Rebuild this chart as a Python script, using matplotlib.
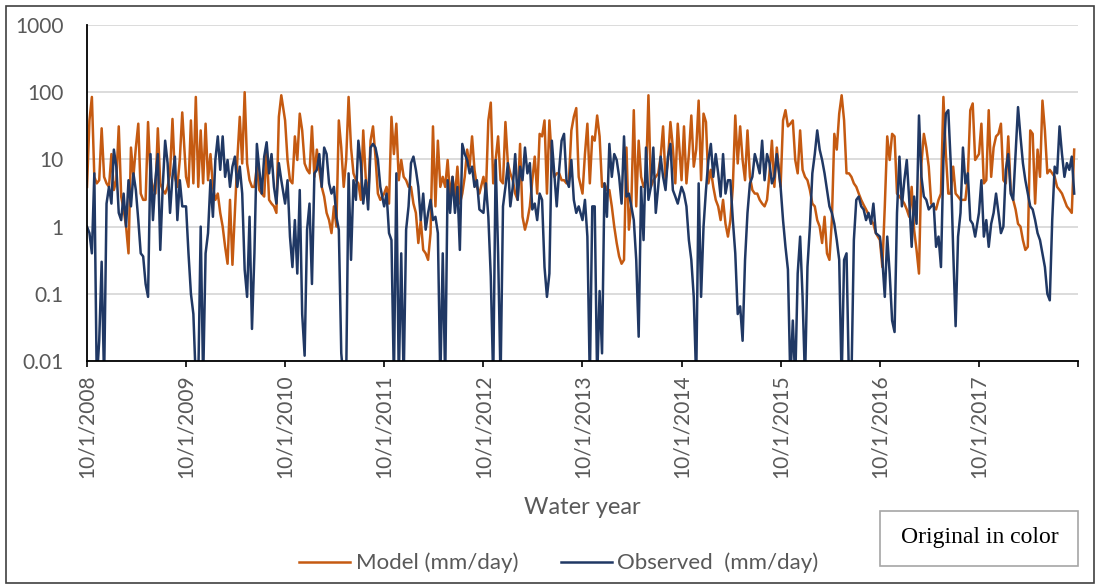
import numpy as np
import pandas as pd
import matplotlib
matplotlib.use('Agg')
import matplotlib.pyplot as plt
import matplotlib.dates as mdates
from matplotlib.patches import Rectangle
from matplotlib.ticker import FixedLocator, FixedFormatter, NullLocator

# Valeurs (mm/jour), ~40 points par annee hydrologique
model_wy2009 = [3.9, 38, 85, 5.5, 4.4, 4.9, 29, 5.5, 4.4, 3.9, 12, 3.5, 4.9, 31, 2.8, 1.8, 1.0, 0.4, 15, 5.5,
                15, 34, 3.1, 2.5, 2.5, 36, 5.5, 3.9, 3.1, 29, 4.4, 3.5, 3.1, 3.9, 6.2, 40, 5.5, 3.9, 10, 50]
model_wy2010 = [5.5, 3.9, 38, 4.4, 85, 3.9, 27, 4.4, 34, 4.9, 12, 3.9, 2.5, 3.1, 1.6, 1.0, 0.5, 0.28, 2.5, 0.27,
                1.6, 10, 43, 8.7, 100, 8.7, 4.9, 3.9, 3.9, 7.8, 3.5, 3.1, 2.8, 15, 2.5, 2.2, 2.0, 1.6, 43, 90]
model_wy2011 = [38, 9.8, 4.9, 4.4, 22, 9.8, 48, 27, 8.7, 7.0, 6.2, 31, 5.5, 14, 7.0, 3.9, 2.8, 1.6, 1.25, 0.8,
                2.0, 1.0, 38, 15, 3.9, 9.8, 85, 15, 6.2, 4.9, 4.4, 2.5, 27, 5.5, 2.5, 19, 31, 11, 3.1, 2.5]
model_wy2012 = [3.1, 3.9, 2.2, 43, 12, 34, 4.9, 9.8, 5.5, 4.9, 3.9, 3.9, 2.2, 1.6, 0.57, 1.25, 0.45, 0.4, 0.32, 0.8,
                31, 2.0, 19, 3.9, 5.5, 3.9, 9.8, 2.8, 5.5, 2.8, 7.8, 2.2, 3.1, 5.5, 14, 7.8, 22, 7.0, 3.9, 3.1]
model_wy2013 = [5.5, 3.1, 38, 70, 4.4, 9.8, 22, 4.9, 4.4, 36, 8.7, 6.2, 4.9, 3.1, 2.5, 17, 1.4, 0.9, 1.25, 2.0,
                4.9, 11, 3.1, 24, 22, 38, 3.1, 38, 9.8, 5.5, 6.2, 6.2, 4.9, 4.9, 4.4, 4.9, 27, 43, 58, 5.5]
model_wy2014 = [3.1, 12, 34, 4.4, 22, 19, 45, 22, 3.9, 4.4, 3.5, 3.5, 2.0, 1.0, 0.57, 0.36, 0.28, 0.32, 15, 0.9,
                2.2, 54, 2.0, 19, 5.5, 3.9, 4.9, 90, 3.9, 4.9, 5.5, 6.2, 11, 31, 4.9, 9.8, 36, 15, 4.4, 34]
model_wy2015 = [4.9, 31, 4.4, 12, 45, 7.8, 14, 75, 4.9, 48, 36, 4.4, 7.0, 3.9, 2.5, 2.0, 1.25, 2.5, 1.1, 0.71,
                1.25, 3.9, 45, 8.7, 31, 9.8, 4.9, 27, 5.5, 3.5, 3.1, 3.1, 2.5, 2.2, 2.0, 2.5, 6.2, 19, 3.9, 15]
model_wy2016 = [3.9, 38, 54, 31, 34, 38, 9.8, 6.2, 27, 7.0, 5.5, 4.9, 3.5, 2.2, 2.0, 1.25, 1.0, 0.57, 1.4, 0.4,
                0.32, 1.25, 24, 14, 48, 90, 38, 6.2, 6.2, 5.5, 4.4, 3.9, 3.1, 2.5, 2.1, 1.8, 1.5, 1.25, 1.1, 0.8]
model_wy2017 = [0.63, 0.25, 2.0, 22, 9.8, 24, 22, 3.1, 2.8, 2.5, 2.2, 1.8, 1.4, 3.9, 0.9, 0.45, 0.2, 8.7, 24, 15,
                7.8, 2.2, 2.0, 1.8, 2.5, 3.1, 85, 12, 3.1, 3.1, 7.8, 3.1, 2.8, 2.5, 2.5, 2.5, 5.5, 54, 68, 9.8]
model_wy2018 = [12, 34, 4.4, 4.9, 54, 5.5, 15, 22, 24, 34, 4.9, 4.4, 22, 3.5, 2.5, 1.8, 1.1, 1.0, 0.63, 0.45,
                0.5, 27, 24, 2.2, 14, 5.5, 75, 27, 6.2, 7.0, 6.2, 5.5, 3.9, 3.5, 3.1, 2.5, 2.0, 1.8, 1.6, 14]

# 0.005 = sous l'axe (debit quasi nul)
obs_wy2009 = [1.0, 0.8, 0.4, 6.2, 0.005, 0.02, 0.3, 0.005, 2.2, 3.9, 2.2, 14, 7.8, 1.6, 1.25, 3.1, 1.0, 4.9, 2.0, 6.2,
              3.5, 1.25, 0.4, 0.36, 0.14, 0.09, 12, 1.25, 4.9, 12, 0.45, 3.9, 19, 8.8, 1.6, 5.5, 11, 1.25, 4.9, 2.0]
obs_wy2010 = [2.0, 0.4, 0.1, 0.05, 0.005, 0.005, 1.0, 0.005, 0.4, 0.8, 4.9, 1.4, 9.8, 22, 7.0, 22, 5.5, 9.8, 3.9, 7.8,
              11, 3.9, 7.8, 3.1, 0.23, 0.09, 1.4, 0.03, 0.4, 17, 7.0, 3.1, 11, 18, 6.2, 12, 3.9, 2.2, 8.8, 4.9]
obs_wy2011 = [2.2, 4.9, 0.71, 0.25, 1.25, 0.2, 3.5, 0.05, 0.012, 0.9, 2.2, 0.14, 6.2, 7.0, 12, 3.9, 15, 12, 4.4, 3.1,
              3.9, 1.4, 0.9, 0.013, 0.005, 0.005, 6.2, 0.32, 4.9, 2.5, 19, 8.8, 2.2, 4.9, 1.8, 15, 17, 15, 9.8, 3.9]
obs_wy2012 = [2.0, 3.1, 0.8, 0.63, 0.005, 6.2, 0.005, 0.4, 0.005, 0.9, 2.0, 8.8, 11, 7.0, 3.9, 1.25, 3.1, 0.9, 1.6, 2.5,
              1.25, 1.4, 0.8, 0.005, 0.4, 0.005, 4.9, 1.6, 5.5, 1.6, 3.9, 0.45, 17, 12, 9.8, 6.2, 7.8, 3.9, 4.9, 1.8]
obs_wy2013 = [1.6, 4.4, 1.4, 0.18, 0.005, 9.8, 0.4, 0.005, 2.0, 3.9, 8.8, 2.0, 3.9, 12, 2.5, 7.8, 4.9, 15, 6.2, 8.8,
              1.8, 2.2, 1.25, 3.1, 2.5, 0.25, 0.09, 0.2, 19, 6.2, 2.0, 7.0, 19, 24, 4.9, 3.9, 9.8, 2.5, 1.6, 2.0]
obs_wy2014 = [1.25, 2.5, 0.71, 0.005, 2.0, 2.0, 0.005, 0.11, 0.013, 4.4, 1.4, 17, 5.5, 12, 9.8, 5.5, 2.2, 22, 2.8, 3.1,
              2.0, 1.25, 0.32, 0.023, 3.9, 0.63, 15, 2.5, 3.9, 15, 1.6, 3.9, 11, 5.5, 3.5, 11, 17, 3.5, 2.8, 2.2]
obs_wy2015 = [3.9, 3.1, 2.0, 0.63, 0.32, 0.09, 0.005, 4.4, 0.09, 1.0, 3.5, 9.8, 17, 5.5, 12, 6.2, 2.8, 12, 3.1, 4.9,
              4.9, 1.25, 0.4, 0.05, 0.065, 0.02, 0.32, 1.6, 4.4, 5.5, 12, 8.8, 6.2, 19, 4.9, 12, 8.8, 4.4, 5.5, 12]
obs_wy2016 = [3.9, 1.25, 0.5, 0.23, 0.005, 0.04, 0.005, 0.2, 0.71, 0.09, 0.005, 0.25, 1.0, 6.2, 12, 27, 14, 9.8, 6.2, 3.5,
              2.0, 1.6, 1.1, 0.63, 0.32, 0.005, 0.32, 0.4, 0.005, 0.005, 0.63, 2.5, 2.8, 2.0, 1.8, 1.25, 1.6, 1.1, 2.2, 0.8]
obs_wy2017 = [0.71, 0.32, 0.09, 0.71, 0.2, 0.04, 0.027, 1.6, 11, 2.0, 4.9, 9.8, 2.5, 0.5, 2.8, 1.1, 45, 5.5, 2.8, 2.5,
              1.8, 2.0, 2.2, 0.5, 0.71, 0.25, 9.8, 48, 54, 8.8, 0.45, 0.033, 0.71, 1.6, 15, 4.4, 6.2, 1.25, 1.1, 0.71]
obs_wy2018 = [1.6, 4.9, 0.71, 1.25, 0.5, 1.1, 1.6, 3.1, 1.6, 0.8, 1.0, 7.0, 12, 3.1, 2.5, 12, 60, 22, 8.8, 4.9,
              3.1, 2.0, 1.8, 1.25, 0.8, 0.63, 0.4, 0.25, 0.1, 0.08, 1.25, 7.8, 6.2, 31, 12, 5.5, 8.8, 7.0, 11, 3.1]

start_years = list(range(2008, 2018))
model_years = [model_wy2009, model_wy2010, model_wy2011, model_wy2012, model_wy2013,
               model_wy2014, model_wy2015, model_wy2016, model_wy2017, model_wy2018]
obs_years = [obs_wy2009, obs_wy2010, obs_wy2011, obs_wy2012, obs_wy2013,
             obs_wy2014, obs_wy2015, obs_wy2016, obs_wy2017, obs_wy2018]

y_ticks = [0.01, 0.1, 1, 10, 100, 1000]
y_labels = ['0.01', '0.1', '1', '10', '100', '1000']
x_labels = [f'10/1/{y}' for y in start_years]

# Dates: chaque annee commence le 1er octobre
dates = pd.DatetimeIndex([])
for y, vals in zip(start_years, model_years):
    dates = dates.append(pd.date_range(f'{y}-10-01', periods=len(vals), freq='9D'))
model = np.concatenate(model_years)
obs = np.concatenate(obs_years)

grey = '#595959'
plt.rcParams['font.family'] = ['Lato', 'DejaVu Sans']

fig = plt.figure(figsize=(10.99, 5.86), dpi=100)
ax = fig.add_axes([87 / 1099, 1 - 361 / 586, (1078 - 87) / 1099, (361 - 25) / 586])

ax.plot(dates, model, color='#C55A11', lw=1.8, label='Model (mm/day)')
ax.plot(dates, obs, color='#203864', lw=1.8, label='Observed  (mm/day)')

ax.set_yscale('log')
ax.set_ylim(0.01, 1000)
ax.set_xlim(mdates.date2num(pd.Timestamp('2008-10-01')), mdates.date2num(pd.Timestamp('2018-10-01')))
ax.yaxis.set_major_locator(FixedLocator(y_ticks))
ax.yaxis.set_major_formatter(FixedFormatter(y_labels))
ax.yaxis.set_minor_locator(NullLocator())

tick_pos = [mdates.date2num(pd.Timestamp(f'{y}-10-01')) for y in range(2008, 2019)]
ax.xaxis.set_major_locator(FixedLocator(tick_pos))
ax.xaxis.set_major_formatter(FixedFormatter(x_labels + ['']))
ax.xaxis.set_minor_locator(NullLocator())

ax.yaxis.grid(True, color='#d9d9d9', lw=1.3)
ax.set_axisbelow(True)
for s in ['top', 'right']:
    ax.spines[s].set_visible(False)
for s in ['left', 'bottom']:
    ax.spines[s].set_color('black')
    ax.spines[s].set_linewidth(1.3)

ax.tick_params(axis='y', length=0, pad=17, labelsize=15, labelcolor=grey)
ax.tick_params(axis='x', length=4.5, width=1.2, direction='out', pad=5, labelsize=15,
               labelcolor=grey, labelrotation=90)

fig.text(582 / 1099, 1 - 507 / 586, 'Water year', ha='center', va='center', fontsize=17, color=grey)

leg = ax.legend(loc='center', bbox_to_anchor=(559 / 1099, 1 - 563 / 586), bbox_transform=fig.transFigure,
                ncol=2, frameon=False, fontsize=16, handlelength=2.3, handletextpad=0.25,
                columnspacing=1.9)
for t in leg.get_texts():
    t.set_color(grey)

# Cadre "Original in color"
fig.add_artist(Rectangle((880 / 1099, 1 - 566 / 586), 198 / 1099, 55 / 586, transform=fig.transFigure,
                         facecolor='white', edgecolor='#a6a6a6', lw=1.2))
fig.text(980 / 1099, 1 - 538 / 586, 'Original in color', ha='center', va='center', fontsize=17,
         family='Liberation Serif', color='black')

# Bordure du graphique
fig.add_artist(Rectangle((6 / 1099, 1 - 583 / 586), 1088 / 1099, 577 / 586, transform=fig.transFigure,
                         facecolor='none', edgecolor='#404040', lw=1.2))

fig.savefig('out.png', dpi=100)
